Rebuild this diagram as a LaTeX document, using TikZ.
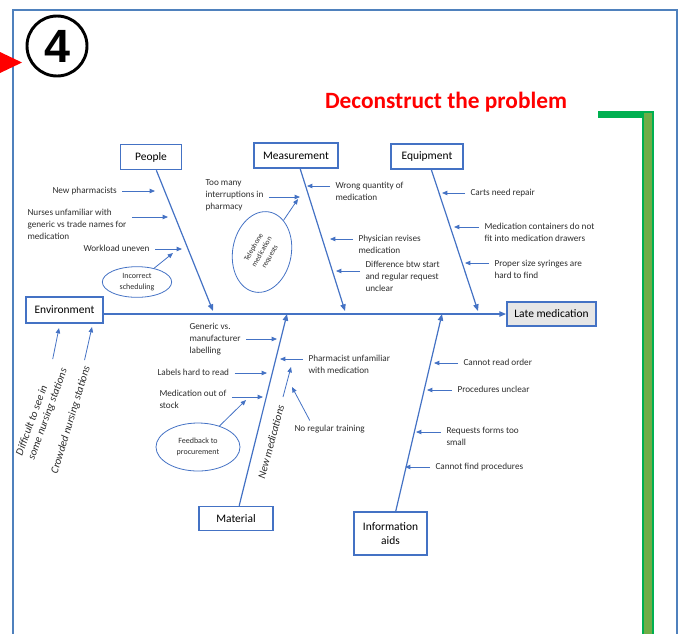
\documentclass[tikz,border=0pt]{standalone}
\usepackage{fontspec}
\setmainfont{Carlito}
\newfontfamily\digitfont{Liberation Sans}
\usetikzlibrary{arrows.meta,shapes.geometric}

\definecolor{fishblue}{RGB}{68,114,196}
\definecolor{frameblue}{RGB}{79,129,189}
\definecolor{labelgray}{RGB}{45,45,45}
\definecolor{greendark}{RGB}{0,176,80}
\definecolor{greenolive}{RGB}{112,173,71}
\definecolor{lategray}{RGB}{230,230,230}

\tikzset{every picture/.style={line width=0.75pt},
  bone/.style={color=fishblue, line width=0.9pt, -{Triangle[length=5pt,width=4pt]}},
  sub/.style={color=fishblue, line width=0.6pt, shorten <=3pt, -{Triangle[length=4pt,width=3.3pt]}},
  catbox/.style={draw=fishblue, line width=1.1pt, fill=white, minimum height=18.75pt, inner sep=1pt, align=center, text=black, font=\fontsize{8.6}{10.5}\selectfont},
  lbl/.style={anchor=north west, inner sep=0.75pt, align=left, text=labelgray, font=\fontsize{6.9}{9}\selectfont},
  turned/.style={text=labelgray, inner sep=0.5pt, font=\itshape\fontsize{8.2}{9.5}\selectfont},
  bubble/.style={draw=fishblue, line width=0.6pt, ellipse, inner sep=0pt, align=center, text=labelgray, font=\fontsize{6}{8.5}\selectfont}}

\begin{document}
\begin{tikzpicture}[x=0.75pt,y=0.75pt,yscale=-1,xscale=1]
\useasboundingbox (0,0) rectangle (685,633);

%Frame
\draw [color=frameblue, line width=1.5pt] (13,640) -- (13,10) -- (677,10) -- (677,640);
%Red marker
\fill [red] (0,52) -- (22,62.5) -- (0,73) -- cycle;
%Green bracket
\fill [greendark] (598,111) rectangle (648,118);
\draw [color=greendark, fill=greenolive, line width=1.5pt] (643,112) rectangle (653,640);

% Step number
\draw (57,46) node (num) [circle, draw, line width=2.2pt, minimum size=45pt, inner sep=0pt] {\digitfont\bfseries\fontsize{35}{35}\selectfont 4};
% Title
\draw (446,102) node (title) [text=red, font=\bfseries\fontsize{17.5}{20}\selectfont] {Deconstruct the problem};

% Category boxes
\draw (151,157) node (people) [catbox, minimum width=45.75pt] {People};
\draw (296,155.5) node (measure) [catbox, minimum width=63pt] {Measurement};
\draw (427,156.5) node (equip) [catbox, minimum width=54pt] {Equipment};
\draw (64.5,310) node (env) [catbox, minimum width=57.75pt, minimum height=19.5pt] {Environment};
\draw (236,518.5) node (material) [catbox, minimum width=55.5pt, minimum height=18pt] {Material};
\draw (390.5,533.5) node (info) [catbox, minimum width=55pt, minimum height=32pt] {Information\\aids};
\draw (551.5,314) node (late) [catbox, minimum width=67pt, minimum height=18pt, fill=lategray] {Late medication};

% Junctions on the spine
\coordinate (j-people) at (213,311);
\coordinate (j-meas) at (345,311);
\coordinate (j-equip) at (478,311);
\coordinate (j-mat) at (287,314);
\coordinate (j-info) at (442,314);

% Spine and bones
\draw [bone] (env.east |- late) -- (late);
\draw [bone] (people) -- (j-people);
\draw [bone] (measure) -- (j-meas);
\draw [bone] (equip) -- (j-equip);
\draw [bone] (material) -- (j-mat);
\draw [bone] (info) -- (j-info);

% People causes
\draw (51,186) node (np) [lbl] {New pharmacists};
\draw (26,208) node (nu) [lbl] {Nurses unfamiliar with\\generic vs trade names for\\medication};
\draw (82,244) node (wu) [lbl] {Workload uneven};
\draw (137,282) node (sched) [bubble, minimum width=52pt, minimum height=23pt] {Incorrect\\scheduling};
\coordinate (c-np) at (155,191);
\coordinate (c-nu) at (168,217);
\coordinate (c-wu) at (182,249);
\coordinate (c-sched) at (173,253);
\draw [sub] (np.east |- c-np) -- (c-np);
\draw [sub] (nu.east |- c-nu) -- (c-nu);
\draw [sub] (wu.east |- c-wu) -- (c-wu);
\draw [sub, shorten <=0pt] (sched) -- (c-sched);

% Measurement causes
\draw (204,178) node (tmi) [lbl] {Too many\\interruptions in\\pharmacy};
\draw (262,252) node (tel) [bubble, rotate=80, minimum width=61pt, minimum height=44pt] {};
\draw (262,252) node (tel-txt) [rotate=60, align=center, text=labelgray, inner sep=0pt, font=\fontsize{5.5}{7}\selectfont] {Telephone\\medication\\requests};
\draw (334,181) node (wq) [lbl] {Wrong quantity of\\medication};
\draw (357,234) node (pr) [lbl] {Physician revises\\medication};
\draw (364,260) node (dif) [lbl] {Difference btw start\\and regular request\\unclear};
\coordinate (c-tmi) at (300,197);
\coordinate (c-tel) at (298,199);
\coordinate (c-wq) at (307,186);
\coordinate (c-pr) at (330,239);
\coordinate (c-dif) at (336,271);
\draw [sub] (tmi.east |- c-tmi) -- (c-tmi);
\draw [sub, shorten <=0pt] (tel) -- (c-tel);
\draw [sub] (wq.west |- c-wq) -- (c-wq);
\draw [sub] (pr.west |- c-pr) -- (c-pr);
\draw [sub] (dif.west |- c-dif) -- (c-dif);

% Equipment causes
\draw (469,188) node (cart) [lbl] {Carts need repair};
\draw (483,222) node (cont) [lbl] {Medication containers do not\\fit into medication drawers};
\draw (493,259) node (syr) [lbl] {Proper size syringes are\\hard to find};
\coordinate (c-cart) at (442,193);
\coordinate (c-cont) at (454,227);
\coordinate (c-syr) at (465,263);
\draw [sub] (cart.west |- c-cart) -- (c-cart);
\draw [sub] (cont.west |- c-cont) -- (c-cont);
\draw [sub] (syr.west |- c-syr) -- (c-syr);

% Environment causes
\draw (42,412) node (diff) [turned, rotate=70, align=left] {Difficult to see in\\some nursing stations};
\draw (71,420) node (crowd) [turned, rotate=73] {Crowded nursing stations};
\coordinate (c-diff) at (59,328);
\coordinate (c-crowd) at (92,327);
\draw [sub] (diff) -- (c-diff);
\draw [sub] (crowd) -- (c-crowd);

% Material causes
\draw (188,322) node (gen) [lbl] {Generic vs.\\manufacturer\\labelling};
\draw (156,368) node (lab) [lbl] {Labels hard to read};
\draw (158,389) node (mos) [lbl] {Medication out of\\stock};
\draw (198,447) node (feed) [bubble, minimum width=63pt, minimum height=36pt] {Feedback to\\procurement};
\draw (271,442) node (newmed) [turned, rotate=75] {New medications};
\draw (307,354) node (phu) [lbl] {Pharmacist unfamiliar\\with medication};
\draw (293,424) node (nrt) [lbl] {No regular training};
\coordinate (c-gen) at (277,339);
\coordinate (c-lab) at (267,373);
\coordinate (c-mos) at (263,397);
\coordinate (c-feed) at (246,400);
\coordinate (c-phu) at (280,359);
\coordinate (c-nrt) at (292,387);
\coordinate (s-nm) at (283,397);
\coordinate (c-nm) at (291,367);
\draw [sub] (gen.east |- c-gen) -- (c-gen);
\draw [sub] (lab.east |- c-lab) -- (c-lab);
\draw [sub] (mos.east |- c-mos) -- (c-mos);
\draw [sub, shorten <=0pt] (feed) -- (c-feed);
\draw [sub] (phu.west |- c-phu) -- (c-phu);
\draw [sub] ([xshift=14pt]nrt.north west) -- (c-nrt);
\draw [sub, shorten <=0pt] (s-nm) -- (c-nm);

% Information aids causes
\draw (462,358) node (cro) [lbl] {Cannot read order};
\draw (456,385) node (pu) [lbl] {Procedures unclear};
\draw (445,426) node (rf) [lbl] {Requests forms too\\small};
\draw (434,462) node (cfp) [lbl] {Cannot find procedures};
\coordinate (c-cro) at (434,363);
\coordinate (c-pu) at (427,390);
\coordinate (c-rf) at (416,432);
\coordinate (c-cfp) at (405,467);
\draw [sub] (cro.west |- c-cro) -- (c-cro);
\draw [sub] (pu.west |- c-pu) -- (c-pu);
\draw [sub] (rf.west |- c-rf) -- (c-rf);
\draw [sub] (cfp.west |- c-cfp) -- (c-cfp);

\end{tikzpicture}
\end{document}
